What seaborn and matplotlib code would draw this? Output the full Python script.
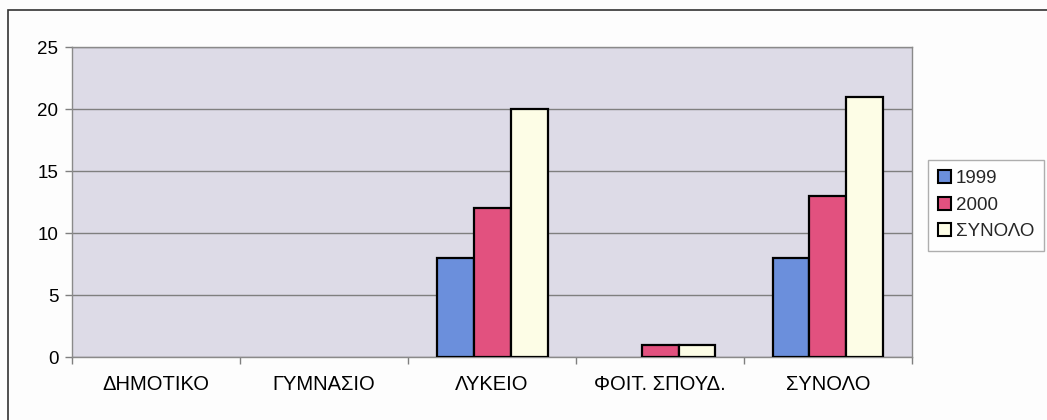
import matplotlib
matplotlib.use("Agg")
import matplotlib.pyplot as plt
import matplotlib.patches as mpatches
import pandas as pd
import seaborn as sns

# chart data
categories = ["ΔΗΜΟΤΙΚΟ", "ΓΥΜΝΑΣΙΟ", "ΛΥΚΕΙΟ", "ΦΟΙΤ. ΣΠΟΥΔ.", "ΣΥΝΟΛΟ"]
series = ["1999", "2000", "ΣΥΝΟΛΟ"]
values_1999 = [0, 0, 8, 0, 8]
values_2000 = [0, 0, 12, 1, 13]
values_total = [0, 0, 20, 1, 21]
y_ticks = [0, 5, 10, 15, 20, 25]

colors = {"1999": "#6b8fdc", "2000": "#e2517f", "ΣΥΝΟΛΟ": "#fdfde6"}

rows = []
for name, vals in zip(series, [values_1999, values_2000, values_total]):
    for cat, v in zip(categories, vals):
        rows.append({"category": cat, "series": name, "value": v})
df = pd.DataFrame(rows)
# zero bars are not drawn in the original
df_bars = df[df["value"] > 0]

sns.set_theme(style="white")
plt.rcParams["font.family"] = ["Liberation Sans", "DejaVu Sans"]

fig = plt.figure(figsize=(10.47, 4.2), dpi=100)
fig.patch.set_facecolor("#fdfdfd")
ax = fig.add_axes([0.069, 0.15, 0.802, 0.738])
ax.set_facecolor("#dddbe7")

sns.barplot(
    data=df_bars, x="category", y="value", hue="series",
    order=categories, hue_order=series, palette=colors,
    width=0.66, edgecolor="black", linewidth=1.6,
    saturation=1, legend=False, ax=ax, zorder=3,
)

ax.set_xlim(-0.5, len(categories) - 0.5)
ax.set_ylim(0, 25)
ax.set_yticks(y_ticks)
ax.yaxis.grid(True, color="#7f7f7f", linewidth=1.0, zorder=0)
ax.set_axisbelow(True)
ax.set_xlabel("")
ax.set_ylabel("")

# Excel-style tick marks between categories
ax.set_xticks([i - 0.5 for i in range(len(categories) + 1)], minor=False)
ax.set_xticklabels([])
ax.set_xticks(range(len(categories)), minor=True)
ax.set_xticklabels(categories, minor=True, fontsize=14.5, color="black")
ax.tick_params(axis="x", which="major", length=5, width=1, color="#7f7f7f", direction="out")
ax.tick_params(axis="x", which="minor", length=0, pad=13)
ax.tick_params(axis="y", length=5, width=1, color="#7f7f7f", direction="out",
               labelsize=13.5, labelcolor="black", pad=5)
ax.tick_params(bottom=True, left=True)

for side in ["left", "bottom", "right", "top"]:
    ax.spines[side].set_visible(True)
    ax.spines[side].set_color("#8a8a8a")
    ax.spines[side].set_linewidth(1.0)

handles = [
    mpatches.Patch(facecolor=colors[s], edgecolor="black", linewidth=1.5, label=s)
    for s in series
]
leg = fig.legend(
    handles=handles, loc="upper left", bbox_to_anchor=(0.886, 0.619),
    frameon=True, fancybox=False, edgecolor="#9a9a9a", fontsize=13.5,
    handlelength=0.7, handleheight=0.7, handletextpad=0.25,
    labelspacing=0.5, borderpad=0.55, borderaxespad=0,
)
leg.get_frame().set_linewidth(1.0)

# outer chart border (cut off at right and bottom in the scan)
fig.add_artist(mpatches.Rectangle(
    (0.0076, -0.05), 1.1, 1.026, transform=fig.transFigure,
    fill=False, edgecolor="#333333", linewidth=1.2,
))

fig.savefig("out.png", dpi=100, facecolor=fig.get_facecolor())
